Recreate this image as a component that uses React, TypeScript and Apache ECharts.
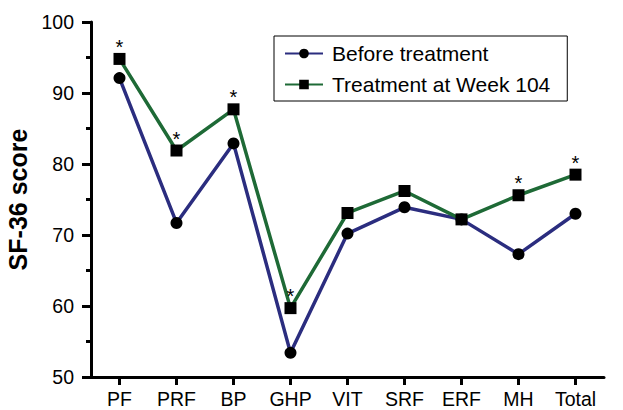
import React, { useEffect, useRef } from "react";
import * as echarts from "echarts";

const categories = ["PF", "PRF", "BP", "GHP", "VIT", "SRF", "ERF", "MH", "Total"];
const beforeTreatment = [92.1, 71.7, 82.9, 53.4, 70.2, 73.9, 72.2, 67.3, 73.0];
const week104 = [94.8, 81.9, 87.7, 59.7, 73.1, 76.2, 72.2, 75.6, 78.5];
const significant = [true, true, true, true, false, false, false, true, true];
const yTicks = { min: 50, max: 100, interval: 10 };

export default function App() {
  const ref = useRef<HTMLDivElement>(null);
  useEffect(() => {
    if (!ref.current) return;
    const chart = echarts.init(ref.current, undefined, { renderer: "svg" });
    const font = "Arial, 'Liberation Sans', Helvetica, sans-serif";
    const ink = "#000000";
    chart.setOption({
      animation: false,
      backgroundColor: "#fff",
      textStyle: { fontFamily: font },
      grid: { left: 91, top: 22, right: 19, bottom: 33, containLabel: false, outerBoundsMode: "none" },
      legend: {
        orient: "vertical",
        left: 274,
        top: 36,
        borderColor: ink,
        borderWidth: 1,
        padding: [7, 17, 6, 10],
        itemGap: 10,
        itemWidth: 38,
        itemHeight: 12,
        textStyle: { fontSize: 21, color: ink, fontFamily: font, padding: [0, 0, 0, 4] },
        data: ["Before treatment", "Treatment at Week 104"],
      },
      xAxis: {
        type: "category",
        data: categories,
        boundaryGap: true,
        axisLine: { show: true, lineStyle: { color: ink, width: 3, opacity: 1 } },
        axisTick: { show: true, alignWithLabel: true, length: 8, lineStyle: { color: ink, width: 3, opacity: 1 } },
        axisLabel: { show: true, color: ink, fontSize: 19.5, margin: 12, fontFamily: font },
        splitLine: { show: false },
      },
      yAxis: {
        type: "value",
        position: "left",
        min: yTicks.min,
        max: yTicks.max,
        interval: yTicks.interval,
        name: "SF-36 score",
        nameLocation: "middle",
        nameGap: 50,
        nameTextStyle: { color: ink, fontSize: 25, fontWeight: "bold", fontFamily: font },
        axisLine: { show: true, onZero: false, lineStyle: { color: ink, width: 3, opacity: 1 } },
        axisTick: { show: true, inside: false, length: 9, lineStyle: { color: ink, width: 3, opacity: 1 } },
        minorTick: { show: true, splitNumber: 2, length: 5, lineStyle: { color: ink, width: 3, opacity: 1 } },
        axisLabel: { show: true, color: ink, fontSize: 19.5, margin: 17, fontFamily: font },
        splitLine: { show: false },
      },
      series: [
        {
          name: "Before treatment",
          type: "line",
          data: beforeTreatment,
          symbol: "circle",
          symbolSize: 12,
          itemStyle: { color: ink },
          lineStyle: { color: "#2b2d7f", width: 3.5 },
          z: 2,
        },
        {
          name: "Treatment at Week 104",
          type: "line",
          data: week104.map((v, i) => ({
            value: v,
            label: {
              show: significant[i],
              formatter: "*",
              position: "top",
              distance: -4,
              fontSize: 20,
              color: ink,
              fontFamily: font,
            },
          })),
          symbol: "rect",
          symbolSize: 12,
          itemStyle: { color: ink },
          lineStyle: { color: "#1e6a36", width: 3.5 },
          z: 3,
        },
      ],
    });
    return () => chart.dispose();
  }, []);
  return <div ref={ref} style={{ position: "absolute", left: 0, top: 0, width: 623, height: 410 }} />;
}
